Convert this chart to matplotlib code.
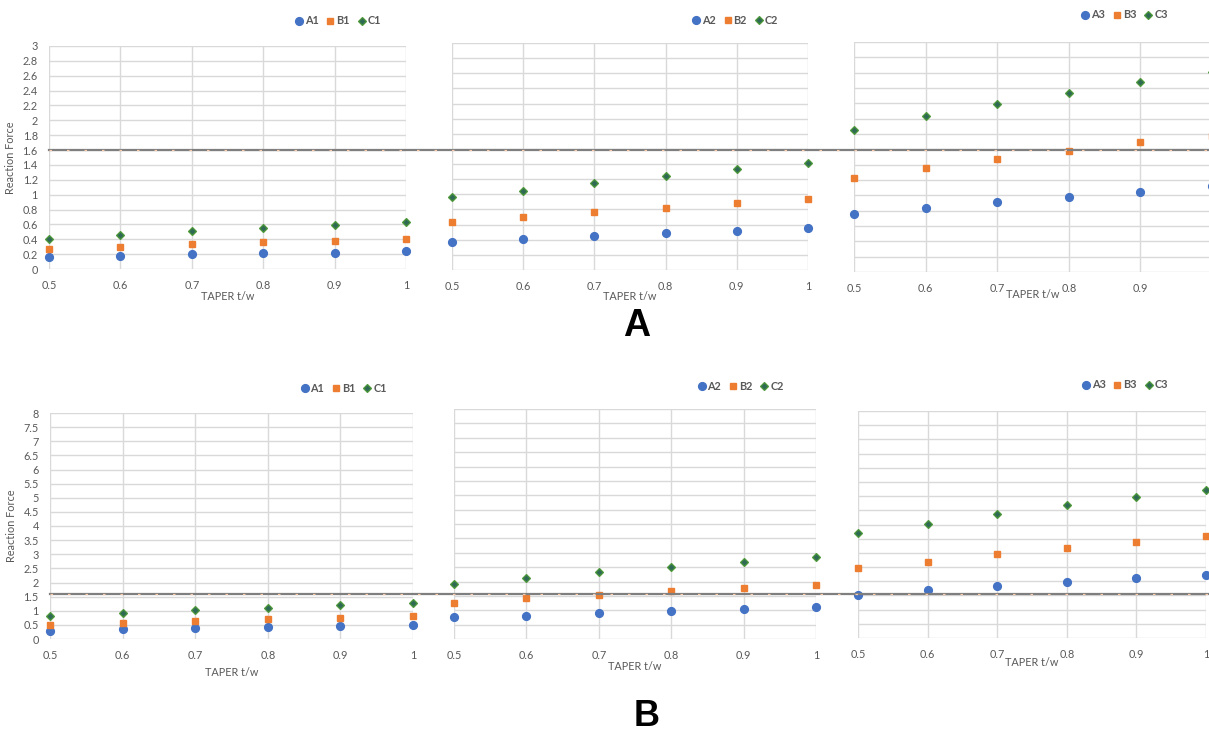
import matplotlib
matplotlib.use("Agg")
import matplotlib.pyplot as plt
from matplotlib.ticker import FuncFormatter

# taper ratios on the x axis
taper = [0.5, 0.6, 0.7, 0.8, 0.9, 1.0]

# row A
a_rows = {
    1: {"A": [0.16, 0.17, 0.20, 0.21, 0.22, 0.24],
        "B": [0.27, 0.29, 0.33, 0.36, 0.38, 0.41],
        "C": [0.41, 0.46, 0.51, 0.55, 0.59, 0.63]},
    2: {"A": [0.37, 0.41, 0.45, 0.49, 0.52, 0.56],
        "B": [0.63, 0.70, 0.76, 0.82, 0.88, 0.94],
        "C": [0.96, 1.05, 1.15, 1.24, 1.33, 1.41]},
    3: {"A": [0.76, 0.84, 0.91, 0.98, 1.05, 1.12],
        "B": [1.23, 1.36, 1.48, 1.58, 1.69, 1.78],
        "C": [1.85, 2.03, 2.19, 2.34, 2.48, 2.61]},
}

# row B
b_rows = {
    1: {"A": [0.28, 0.35, 0.39, 0.42, 0.45, 0.48],
        "B": [0.51, 0.58, 0.65, 0.71, 0.76, 0.80],
        "C": [0.83, 0.91, 1.01, 1.11, 1.20, 1.26]},
    2: {"A": [0.75, 0.81, 0.90, 0.97, 1.06, 1.12],
        "B": [1.25, 1.41, 1.53, 1.66, 1.76, 1.89],
        "C": [1.92, 2.11, 2.33, 2.49, 2.68, 2.84]},
    3: {"A": [1.51, 1.68, 1.83, 1.96, 2.11, 2.23],
        "B": [2.48, 2.69, 2.95, 3.16, 3.39, 3.58],
        "C": [3.69, 4.03, 4.37, 4.69, 4.97, 5.22]},
}

limit_value = 1.6

W, H = 1209, 732
fig = plt.figure(figsize=(W / 100, H / 100), dpi=100)
plt.rcParams['font.family'] = ['Lato', 'DejaVu Sans']

text_col = '#595959'
grid_col = '#D9D9D9'
styles = {
    "A": dict(marker='o', color='#4472C4', ms=5.6, mec='#4472C4'),
    "B": dict(marker='s', color='#ED7D31', ms=5.0, mec='#ED7D31'),
    "C": dict(marker='D', color='#2F6A55', ms=3.8, mec='#4E9A3A', mew=0.9),
}

# panel rectangles in pixels: left, top, right, bottom
rects_a = [(49, 46, 406, 269), (452, 43, 808, 270), (854, 42, 1212, 272)]
rects_b = [(50, 413, 413, 639), (454, 409, 816, 639), (858, 411, 1206, 638)]
legend_x_a = [0.807, 0.793, 0.754]
legend_x_b = [0.807, 0.79, 0.765]
legend_y_a = [21, 20, 15]
legend_y_b = [388, 386, 385]
xlabel_y_a = [297, 296, 295]
xlabel_y_b = [672, 667, 662]


def make_row(data, rects, ymax, ystep, legend_x, legend_y, xlabel_y):
    axes = []
    for i, (l, t, r, b) in enumerate(rects):
        ax = fig.add_axes([l / W, 1 - b / H, (r - l) / W, (b - t) / H])
        ax.patch.set_visible(False)
        idx = i + 1
        for key in ["A", "B", "C"]:
            st = styles[key]
            ax.plot(taper, data[idx][key], linestyle='none', label=f'{key}{idx}',
                    clip_on=False, zorder=4, **st)
        ax.set_xlim(0.5, 1.0)
        ax.set_ylim(0, ymax)
        ax.set_xticks(taper)
        ax.set_yticks([ystep * k for k in range(int(round(ymax / ystep)) + 1)])
        ax.xaxis.set_major_formatter(FuncFormatter(lambda v, p: f'{v:g}'))
        ax.yaxis.set_major_formatter(FuncFormatter(lambda v, p: f'{v:g}'))
        ax.grid(True, color=grid_col, lw=1.0)
        ax.set_axisbelow(True)
        for s in ax.spines.values():
            s.set_visible(False)
        ax.tick_params(length=0, labelsize=7.8, colors=text_col, pad=8)
        if i > 0:
            ax.tick_params(labelleft=False)
        else:
            ax.set_ylabel('Reaction Force', fontsize=7.8, color=text_col)
            ax.yaxis.set_label_coords(-0.092, 0.5)
        ax.set_xlabel('TAPER t/w', fontsize=7.8, color=text_col)
        h = b - t
        ax.xaxis.set_label_coords(0.5, -(xlabel_y[i] - b) / h)
        ax.xaxis.label.set_va('center')
        leg = ax.legend(loc='center', bbox_to_anchor=(legend_x[i], 1 + (t - legend_y[i]) / h),
                        ncol=3, frameon=False, fontsize=7.8, handletextpad=0.05,
                        columnspacing=0.6, handlelength=1.0, borderaxespad=0)
        for txt in leg.get_texts():
            txt.set_color(text_col)
            txt.set_fontweight('bold')
        axes.append(ax)
    # threshold line across the whole row, drawn from the first panel on top
    ax0 = axes[0]
    ax0.set_zorder(5)
    ax0.axhline(limit_value, xmin=0, xmax=3.5, color='#7F7F7F', lw=1.6,
                clip_on=False, zorder=5)
    ax0.axhline(limit_value, xmin=0, xmax=3.5, color='#F8CBAD', lw=0.9,
                dashes=(2, 12), clip_on=False, zorder=6)
    return axes


make_row(a_rows, rects_a, 3, 0.2, legend_x_a, legend_y_a, xlabel_y_a)
make_row(b_rows, rects_b, 8, 0.5, legend_x_b, legend_y_b, xlabel_y_b)

fig.text(637 / W, 1 - 326 / H, 'A', fontsize=27, fontweight='bold',
         family='Liberation Sans', ha='center', va='center')
fig.text(647 / W, 1 - 716 / H, 'B', fontsize=26, fontweight='bold',
         family='Liberation Sans', ha='center', va='center')

fig.savefig('out.png', dpi=100)
